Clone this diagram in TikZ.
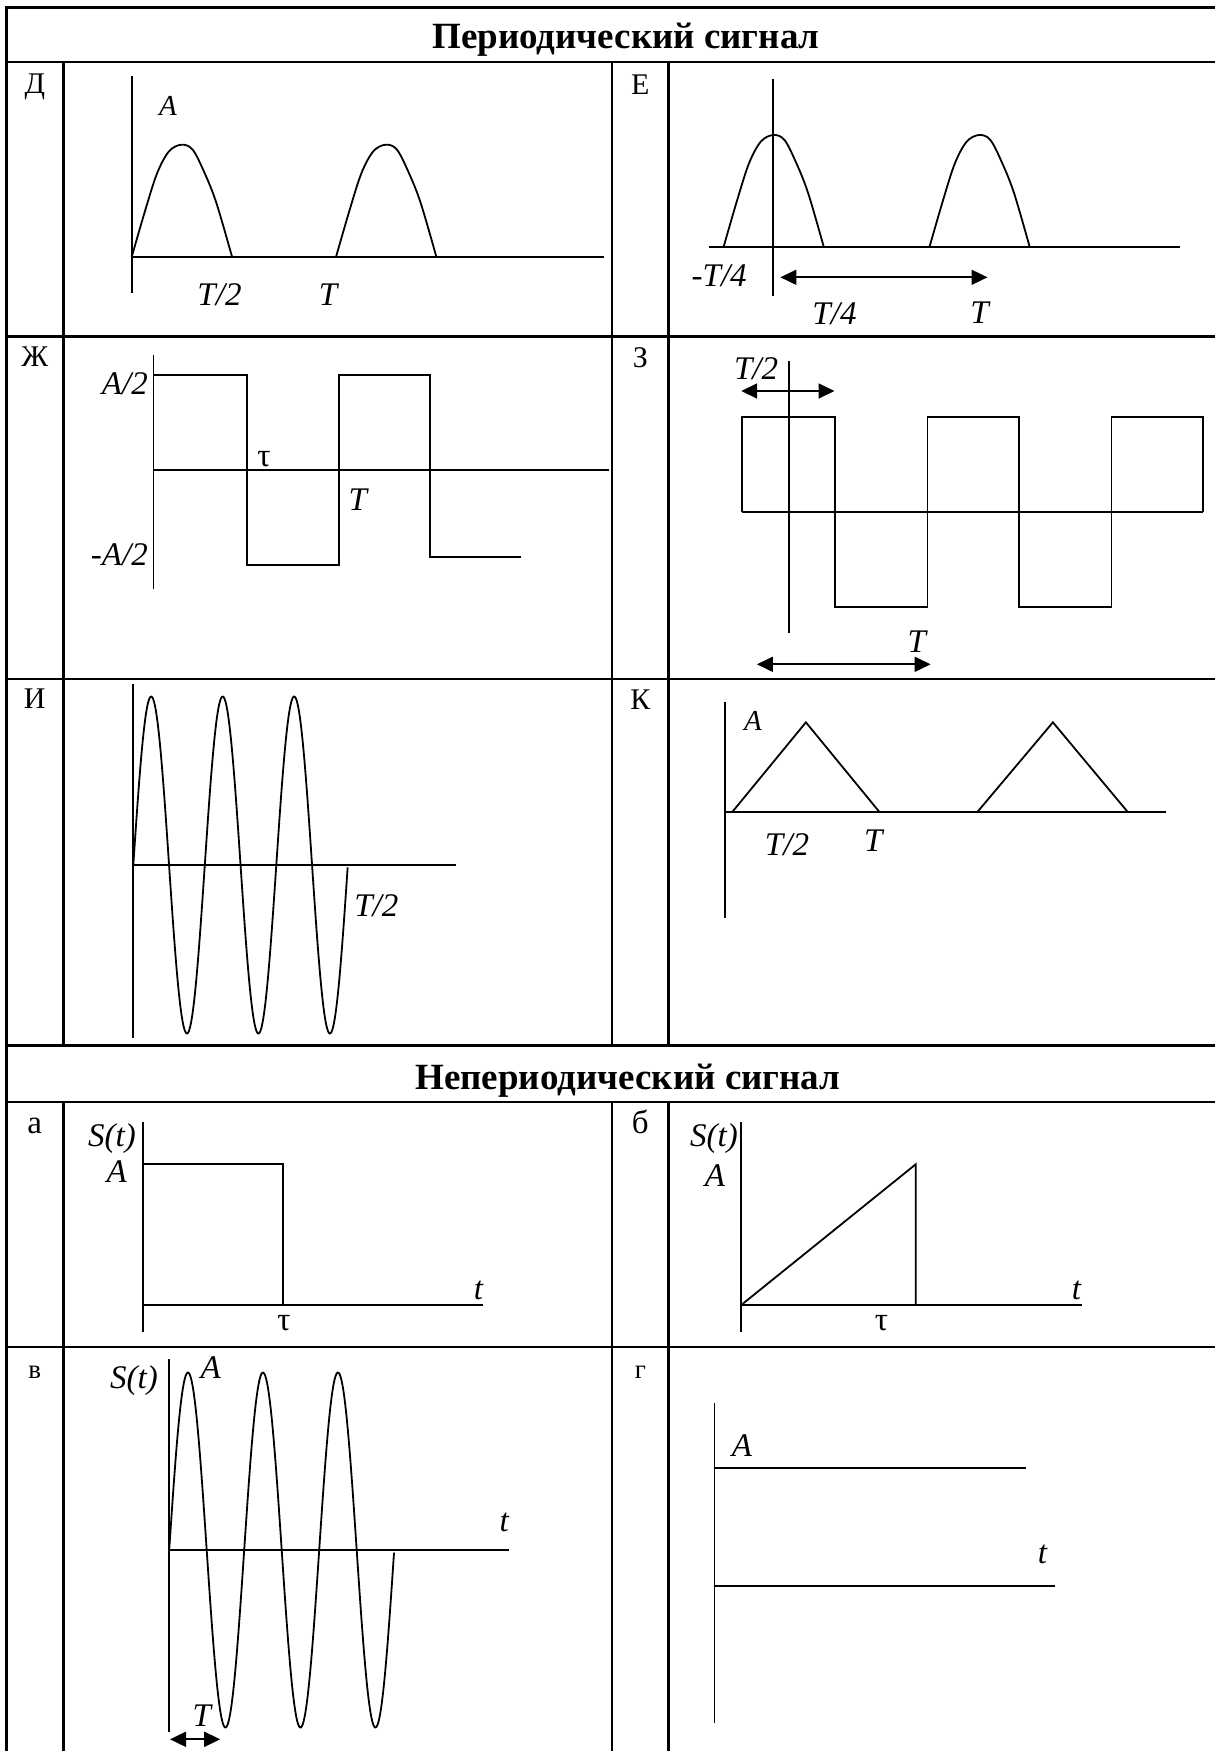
\documentclass[tikz,border=0pt]{standalone}
\usepackage{fontspec}
\setmainfont{Liberation Serif}
\usetikzlibrary{arrows.meta}
\begin{document}
\begin{tikzpicture}[x=1pt,y=-1pt,
  tbl/.style={line width=2.7pt},
  gr/.style={line width=1.8pt, line join=miter},
  dbl/.style={line width=1.8pt, {Triangle[length=16pt,width=15pt]}-{Triangle[length=16pt,width=15pt]}},
  hdr/.style={font=\fontsize{37}{44}\selectfont\bfseries, anchor=base, inner sep=0pt},
  cl/.style={font=\fontsize{30}{36}\selectfont, anchor=base, inner sep=0pt},
  clb/.style={font=\fontsize{33}{40}\selectfont, anchor=base, inner sep=0pt},
  cls/.style={font=\fontsize{27}{32}\selectfont, anchor=base, inner sep=0pt},
  it/.style={font=\fontsize{33}{40}\selectfont\itshape, anchor=base, inner sep=0pt},
  its/.style={font=\fontsize{29}{34}\selectfont\itshape, anchor=base, inner sep=0pt},
  up/.style={font=\fontsize{33}{40}\selectfont, anchor=base, inner sep=0pt},
  hump/.pic={\draw[gr] plot[smooth,tension=0.55] coordinates {(0,0) (13.7,-47.3) (25.5,-84) (37.3,-105.7) (49.8,-112.3) (61,-107.3) (72.9,-84) (84.7,-54) (100.4,0)};}
]
\useasboundingbox (0,0) rectangle (1215,1751);
% ---------- table ----------
\foreach \yy in {7.3,62,336.7,679,1045.7,1102,1347}
  \draw[tbl] (5,\yy) -- (1215,\yy);
\draw[tbl] (6.3,6) -- (6.3,1751);
\foreach \xx in {63.3,612,668.6} {
  \draw[tbl] (\xx,62) -- (\xx,1045.7);
  \draw[tbl] (\xx,1102) -- (\xx,1751);
}
\node[hdr] (h1) at (626,48.5) {Периодический сигнал};
\node[hdr] (h2) at (628,1089.5) {Непериодический сигнал};
% cell letters
\node[cl] (lD) at (34.8,93.3) {Д};
\node[cl] (lE) at (640.3,94) {Е};
\node[cl] (lZh) at (34.8,366.7) {Ж};
\node[cl] (lZ) at (640.3,367.3) {З};
\node[cl] (lI) at (34.8,708.3) {И};
\node[cl] (lK) at (640.3,709.3) {К};
\node[clb] (la) at (34.8,1133.3) {а};
\node[clb] (lb) at (640.3,1133.3) {б};
\node[cls] (lv) at (34.8,1378.3) {в};
\node[cls] (lg) at (640.3,1378.3) {г};
% ---------- Д ----------
\draw[gr] (131.7,76) -- (131.7,293);
\draw[gr] (131.7,257) -- (604,257);
\pic at (131.7,257) {hump};
\pic at (336,257) {hump};
\node[its] (dA) at (168,115) {A};
\node[it] (dT2) at (219.5,305) {T/2};
\node[it] (dT) at (328,305) {T};
% ---------- Е ----------
\draw[gr] (773.3,79) -- (773.3,296);
\draw[gr] (709,247.3) -- (1180.4,247.3);
\pic at (723.5,247.3) {hump};
\pic at (929.4,247.3) {hump};
\coordinate (eA1) at (780.4,277.3);
\coordinate (eA2) at (987.5,277.3);
\draw[dbl] (eA1) -- (eA2);
\node[it] (eT4m) at (719.2,286.7) {-T/4};
\node[it] (eT4) at (834.5,324) {T/4};
\node[it] (eT) at (979.6,323.3) {T};
% ---------- Ж ----------
\draw[gr] (153.4,355) -- (153.4,589.3);
\draw[gr] (153.4,470.3) -- (609,470.3);
\draw[gr] (153.4,375) -- (246.7,375) -- (246.7,565.3) -- (338.9,565.3) -- (338.9,375)
  -- (430.2,375) -- (430.2,556.7) -- (521.2,556.7);
\node[it,anchor=base east] (zhA) at (148,394) {A/2};
\node[it,anchor=base east] (zhAm) at (148,565) {-A/2};
\node[up] (zhtau) at (264,466.7) {τ};
\node[it] (zhT) at (357.8,510) {T};
% ---------- З ----------
\draw[gr] (788.6,360.7) -- (788.6,633.3);
\draw[gr] (742,511.7) -- (1203,511.7);
\draw[gr] (742,511.7) -- (742,417.3) -- (835.3,417.3) -- (835.3,606.7) -- (927.5,606.7)
  -- (927.5,417.3) -- (1018.8,417.3) -- (1018.8,606.7) -- (1111.4,606.7)
  -- (1111.4,417.3) -- (1203,417.3) -- (1203,511.7);
\coordinate (zA1) at (741.2,391);
\coordinate (zA2) at (834.5,391);
\draw[dbl] (zA1) -- (zA2);
\coordinate (zB1) at (756.9,664.3);
\coordinate (zB2) at (930.6,664.3);
\draw[dbl] (zB1) -- (zB2);
\node[it] (zT2) at (756.1,379.3) {T/2};
\node[it] (zT) at (916.9,652.7) {T};
% ---------- И ----------
\draw[gr] (133.3,684) -- (133.3,1038.3);
\draw[gr] (133.3,865) -- (455.5,865);
\draw[gr] plot[domain=0:3, samples=240, smooth] ({133.3+71.5*\x},{865-168.5*sin(360*\x)});
\node[it] (iT2) at (376.4,916.7) {T/2};
% ---------- К ----------
\draw[gr] (724.7,701.7) -- (724.7,918.3);
\draw[gr] (724.7,811.7) -- (1165.5,811.7);
\draw[gr] (732.5,811.7) -- (805.9,722.3) -- (879.2,811.7);
\draw[gr] (977.6,811.7) -- (1052.9,722.3) -- (1127.5,811.7);
\node[its] (kA) at (752.9,730) {A};
\node[it] (kT2) at (787,855) {T/2};
\node[it] (kT) at (873.3,851.7) {T};
% ---------- а ----------
\draw[gr] (143.1,1121.7) -- (143.1,1331.7);
\draw[gr] (143.1,1305) -- (483.2,1305);
\draw[gr] (143.1,1164.3) -- (283.1,1164.3) -- (283.1,1305);
\node[it,anchor=base east] (aS) at (136,1146.7) {S(t)};
\node[it] (aA) at (116.6,1182.7) {A};
\node[it] (at) at (478.4,1299.3) {t};
\node[up] (atau) at (283.9,1330) {τ};
% ---------- б ----------
\draw[gr] (741.2,1121.7) -- (741.2,1331.7);
\draw[gr] (741.2,1305) -- (1081.6,1305);
\draw[gr] (741.2,1305) -- (915.7,1164.3) -- (915.7,1305);
\node[it,anchor=base east] (bS) at (738,1146.7) {S(t)};
\node[it] (bA) at (714.9,1186.7) {A};
\node[it] (bt) at (1076.5,1299.3) {t};
\node[up] (btau) at (881.6,1330) {τ};
% ---------- в ----------
\draw[gr] (169.2,1359.3) -- (169.2,1731.7);
\draw[gr] (169.2,1550) -- (509.3,1550);
\draw[gr] plot[domain=0:3, samples=240, smooth] ({169.2+75*\x},{1550-177.5*sin(360*\x)});
\coordinate (vA1) at (170,1739.3);
\coordinate (vA2) at (220.2,1739.3);
\draw[dbl] (vA1) -- (vA2);
\node[it,anchor=base east] (vS) at (158,1388.3) {S(t)};
\node[it] (vA) at (210.8,1378.3) {A};
\node[it] (vt) at (504.2,1531.7) {t};
\node[it] (vT) at (201.7,1726.7) {T};
% ---------- г ----------
\draw[gr] (714.5,1403.3) -- (714.5,1722.7);
\draw[gr] (714.5,1467.7) -- (1025.5,1467.7);
\draw[gr] (714.5,1586) -- (1054.9,1586);
\node[it] (gA) at (742,1456) {A};
\node[it] (gt) at (1042.4,1563.3) {t};
\end{tikzpicture}
\end{document}
